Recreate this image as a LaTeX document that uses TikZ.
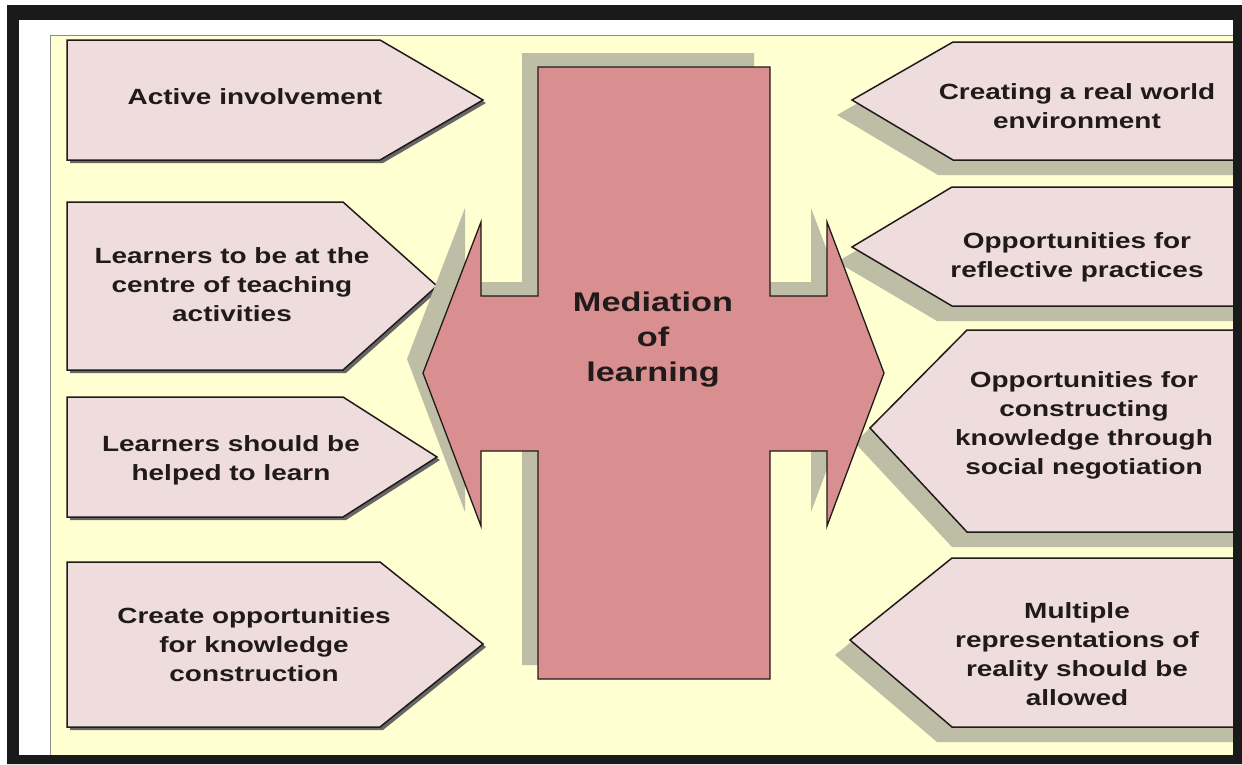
\documentclass[tikz,border=0pt]{standalone}
\usepackage{fontspec}
\setmainfont{Liberation Sans}[FakeStretch=1.27]
\definecolor{bgyellow}{RGB}{255,255,210}
\definecolor{boxpink}{RGB}{239,221,222}
\definecolor{hubred}{RGB}{217,143,144}
\definecolor{olive}{RGB}{190,190,166}
\definecolor{inkdark}{RGB}{32,26,26}
\definecolor{framegrey}{RGB}{26,26,26}

\begin{document}
\begin{tikzpicture}[x=1pt,y=-1pt,
    pointbox/.style={fill=boxpink, draw=inkdark, line width=1.5pt},
    hubshape/.style={fill=hubred, draw=inkdark, line width=1.3pt},
    oliveshadow/.style={fill=olive},
    thinshadow/.style={fill=black!60},
    boxtext/.style={font=\bfseries\fontsize{22}{29}\selectfont, text=inkdark, align=center},
    hubtext/.style={font=\bfseries\fontsize{27}{35}\selectfont, text=inkdark, align=center}]
    \useasboundingbox (0,0) rectangle (1242,764);

    % page and panel
    \fill[white] (0,0) rectangle (1242,764);
    \fill[bgyellow] (50,35) rectangle (1240,760);
    \draw[black!45, line width=1pt] (50,760) -- (50,35) -- (1240,35);

    % left boxes, pointing right
    \fill[thinshadow] (70,43) -- (383,43) -- (486,103) -- (383,163) -- (70,163) -- cycle;
    \draw[pointbox] (67,40) -- (380,40) -- (483,100) -- (380,160) -- (67,160) -- cycle;
    \fill[thinshadow] (70,205) -- (346,205) -- (440,289) -- (346,373) -- (70,373) -- cycle;
    \draw[pointbox] (67,202) -- (343,202) -- (437,286) -- (343,370) -- (67,370) -- cycle;
    \fill[thinshadow] (70,400) -- (346,400) -- (440,460) -- (346,520) -- (70,520) -- cycle;
    \draw[pointbox] (67,397) -- (343,397) -- (437,457) -- (343,517) -- (67,517) -- cycle;
    \fill[thinshadow] (70,565) -- (383,565) -- (486,647) -- (383,730) -- (70,730) -- cycle;
    \draw[pointbox] (67,562) -- (380,562) -- (483,644) -- (380,727) -- (67,727) -- cycle;

    % right boxes, pointing left
    \fill[oliveshadow] (1240,57) -- (938,57) -- (837,115) -- (938,175) -- (1240,175) -- cycle;
    \draw[pointbox] (1240,42) -- (953,42) -- (852,100) -- (953,160) -- (1240,160) -- cycle;
    \fill[oliveshadow] (1240,202) -- (937,202) -- (837,262) -- (937,321) -- (1240,321) -- cycle;
    \draw[pointbox] (1240,187) -- (952,187) -- (852,247) -- (952,306) -- (1240,306) -- cycle;
    \fill[oliveshadow] (1240,345) -- (952,345) -- (855,443) -- (952,547) -- (1240,547) -- cycle;
    \draw[pointbox] (1240,330) -- (967,330) -- (870,428) -- (967,532) -- (1240,532) -- cycle;
    \fill[oliveshadow] (1240,573) -- (937,573) -- (835,655) -- (937,742) -- (1240,742) -- cycle;
    \draw[pointbox] (1240,558) -- (952,558) -- (850,640) -- (952,727) -- (1240,727) -- cycle;

    % centre cross with double arrow
    \fill[oliveshadow, shift={(-16,-14)}] (538,67) -- (770,67) -- (770,296) -- (827,296) -- (827,222)
        -- (884,373) -- (827,526) -- (827,451) -- (770,451) -- (770,679) -- (538,679) -- (538,451)
        -- (481,451) -- (481,526) -- (423,373) -- (481,222) -- (481,296) -- (538,296) -- cycle;
    \draw[hubshape] (538,67) -- (770,67) -- (770,296) -- (827,296) -- (827,222)
        -- (884,373) -- (827,526) -- (827,451) -- (770,451) -- (770,679) -- (538,679) -- (538,451)
        -- (481,451) -- (481,526) -- (423,373) -- (481,222) -- (481,296) -- (538,296) -- cycle;

    % texts
    \node (active) at (255,97) [boxtext] {Active involvement};
    \node (centre) at (232,285) [boxtext] {Learners to be at the\\centre of teaching\\activities};
    \node (helped) at (231,460) [boxtext] {Learners should be\\helped to learn};
    \node (create) at (254,645) [boxtext] {Create opportunities\\for knowledge\\construction};

    \node (realworld) at (1077,106) [boxtext] {Creating a real world\\environment};
    \node (reflect) at (1077,257) [boxtext] {Opportunities for\\reflective practices};
    \node (social) at (1084,425) [boxtext] {Opportunities for\\constructing\\knowledge through\\social negotiation};
    \node (multiple) at (1077,654) [boxtext] {Multiple\\representations of\\reality should be\\allowed};

    \node (mediation) at (653,340) [hubtext] {Mediation\\of\\learning};

    % outer frame
    \fill[framegrey, even odd rule] (7,5) rectangle (1242,764) (19,20) rectangle (1233,755);
    \fill[white] (19,20) rectangle (50,755);
    \fill[white] (50,20) rectangle (1233,34.5);
    \draw[black!45, line width=1pt] (50,755) -- (50,35) -- (1233,35);
\end{tikzpicture}
\end{document}
